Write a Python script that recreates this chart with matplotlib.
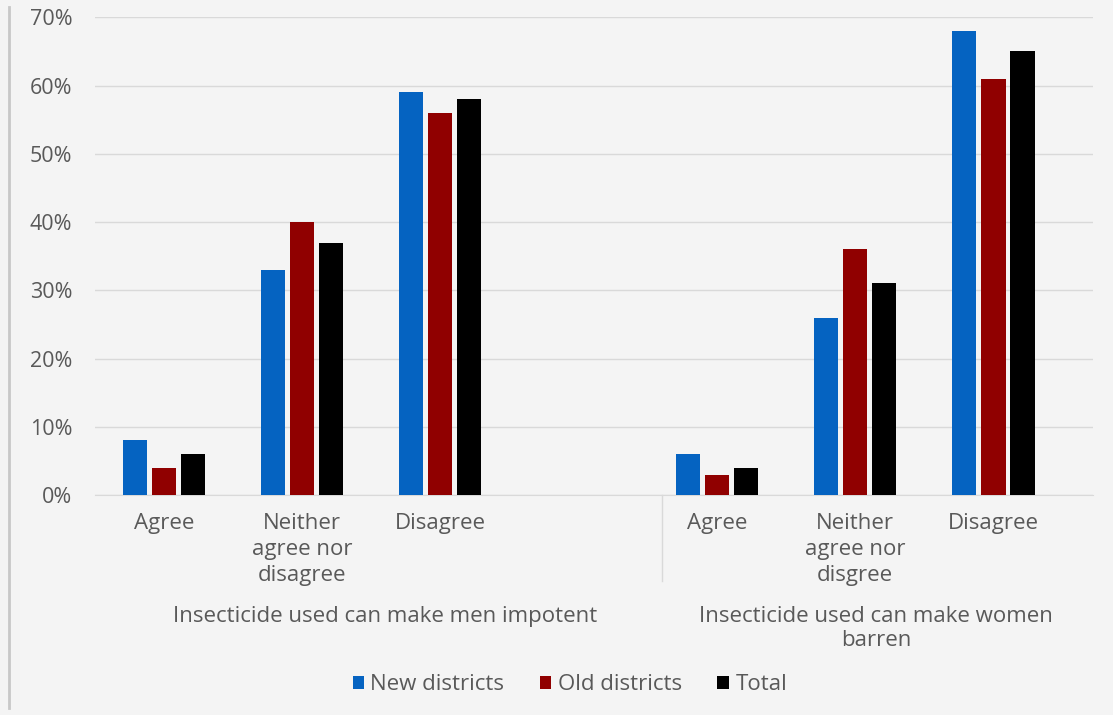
import matplotlib.pyplot as plt
import matplotlib.transforms as mtransforms
from matplotlib.patches import Patch
import numpy as np

# data (percent)
categories = ['Agree', 'Neither\nagree nor\ndisagree', 'Disagree', '',
              'Agree', 'Neither\nagree nor\ndisgree', 'Disagree']
groups = ['Insecticide used can make men impotent',
          'Insecticide used can make women\nbarren']
series_names = ['New districts', 'Old districts', 'Total']
new_districts = [8, 33, 59, np.nan, 6, 26, 68]
old_districts = [4, 40, 56, np.nan, 3, 36, 61]
total = [6, 37, 58, np.nan, 4, 31, 65]

colors = ['#0563c1', '#900000', '#000000']
txt = '#595959'
plt.rcParams['font.family'] = ['Open Sans', 'DejaVu Sans']
fs = 16

fig = plt.figure(figsize=(11.13, 7.15), dpi=100, facecolor='#f4f4f4')
ax = fig.add_axes([0.085, 0.3077, 0.897, 0.668])
ax.set_facecolor('#f4f4f4')

x = np.arange(len(categories))
w = 0.175
step = 0.21
for i, (vals, c) in enumerate(zip([new_districts, old_districts, total], colors)):
    ax.bar(x + (i - 1) * step, vals, width=w, color=c, zorder=3)

ax.set_ylim(0, 70)
ax.set_xlim(-0.5, 6.72)
ax.set_yticks(np.arange(0, 71, 10))
ax.set_yticklabels([f'{v}%' for v in range(0, 71, 10)], color=txt, fontsize=15.5)
ax.grid(axis='y', color='#d9d9d9', lw=1, zorder=0)
for s in ['top', 'right', 'left']:
    ax.spines[s].set_visible(False)
ax.spines['bottom'].set_color('#d9d9d9')
ax.set_xticks(x)
ax.set_xticklabels(categories, color=txt, fontsize=fs, linespacing=1.3)
ax.tick_params(axis='both', length=0)
ax.tick_params(axis='x', pad=13)
ax.tick_params(axis='y', pad=16)

trans = mtransforms.blended_transform_factory(ax.transData, ax.transAxes)
ax.plot([3.6, 3.6], [0, -0.18], transform=trans, color='#d9d9d9', lw=1, clip_on=False)
ax.text(1.6, -0.255, groups[0], transform=trans, ha='center', va='center',
        color=txt, fontsize=fs)
ax.text(5.15, -0.28, groups[1], transform=trans, ha='center', va='center',
        color=txt, fontsize=fs, linespacing=1.2)

handles = [Patch(facecolor=c) for c in colors]
fig.legend(handles, series_names, loc='center', bbox_to_anchor=(0.512, 0.042),
           ncol=3, frameon=False, fontsize=fs, handlelength=0.5, handleheight=0.5,
           handletextpad=0.3, columnspacing=1.6, labelcolor=txt)

fig.add_artist(plt.Line2D([0.008, 0.008], [0.01, 0.99], transform=fig.transFigure,
                          color='#c8c8c8', lw=2))

fig.savefig('out.png', dpi=100, facecolor=fig.get_facecolor())
